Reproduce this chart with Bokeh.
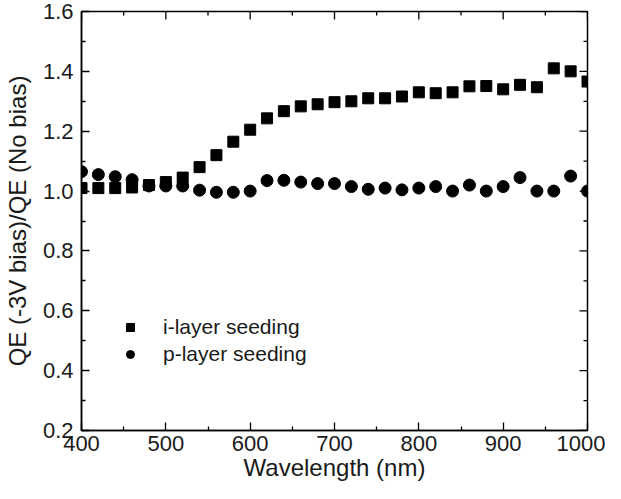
import math
from bokeh.plotting import figure
from bokeh.models import (Range1d, FixedTicker, NumeralTickFormatter, Legend, LegendItem)
from bokeh.embed import file_html
from bokeh.resources import INLINE

# ---- data ----
wavelength = [400, 420, 440, 460, 480, 500, 520, 540, 560, 580, 600, 620, 640, 660, 680,
              700, 720, 740, 760, 780, 800, 820, 840, 860, 880, 900, 920, 940, 960, 980, 1000]
i_layer = [1.01, 1.01, 1.01, 1.012, 1.02, 1.03, 1.045, 1.08, 1.12, 1.165, 1.205, 1.243,
           1.267, 1.283, 1.29, 1.297, 1.30, 1.31, 1.31, 1.316, 1.33, 1.327, 1.33, 1.35,
           1.351, 1.34, 1.355, 1.347, 1.41, 1.40, 1.366]
p_layer = [1.065, 1.055, 1.048, 1.038, 1.017, 1.017, 1.017, 1.003, 0.996, 0.996, 1.0, 1.035,
           1.036, 1.03, 1.025, 1.025, 1.015, 1.006, 1.01, 1.004, 1.01, 1.015, 1.0, 1.02,
           1.0, 1.015, 1.045, 1.0, 1.0, 1.05, 1.0]
series_labels = ["i-layer seeding", "p-layer seeding"]
x_ticks = [400, 500, 600, 700, 800, 900, 1000]
x_minor = [450, 550, 650, 750, 850, 950]
y_ticks = [0.2, 0.4, 0.6, 0.8, 1.0, 1.2, 1.4, 1.6]
y_minor = [0.3, 0.5, 0.7, 0.9, 1.1, 1.3, 1.5]
x_min, x_max = 400, 1000
y_min, y_max = 0.2, 1.6
x_title = "Wavelength (nm)"
y_title = "QE (-3V bias)/QE (No bias)"

FONT = "Liberation Sans"
TXT = "#1a1a1a"
MAJ, MIN = 8, 4

p = figure(width=605, height=483, output_backend="svg", toolbar_location=None,
           x_range=Range1d(x_min, x_max), y_range=Range1d(y_min, y_max),
           min_border_left=75, min_border_right=18, min_border_top=11, min_border_bottom=40)
p.xgrid.visible = False
p.ygrid.visible = False
p.outline_line_color = "black"
p.outline_line_width = 1.5
p.background_fill_color = "white"
p.border_fill_color = "white"

for ax, tk, mn in ((p.xaxis[0], x_ticks, x_minor), (p.yaxis[0], y_ticks, y_minor)):
    ax.ticker = FixedTicker(ticks=tk, minor_ticks=mn)
    ax.axis_line_color = "black"
    ax.axis_line_width = 1.5
    ax.major_tick_in = MAJ
    ax.major_tick_out = 0
    ax.minor_tick_in = MIN
    ax.minor_tick_out = 0
    ax.major_tick_line_width = 1.3
    ax.minor_tick_line_width = 1.3
    ax.major_tick_line_color = "black"
    ax.minor_tick_line_color = "black"
    ax.major_label_text_font = FONT
    ax.major_label_text_font_size = "22px"
    ax.major_label_text_color = TXT
    ax.axis_label_text_font = FONT
    ax.axis_label_text_font_size = "24px"
    ax.axis_label_text_font_style = "normal"
    ax.axis_label_text_color = TXT

p.xaxis.formatter = NumeralTickFormatter(format="0")
p.yaxis.formatter = NumeralTickFormatter(format="0.0")
p.xaxis.axis_label = x_title
p.yaxis.axis_label = y_title
p.xaxis.major_label_standoff = 5
p.xaxis.axis_label_standoff = 0
p.yaxis.major_label_standoff = 8
p.yaxis.axis_label_standoff = 9

# mirrored inward ticks on the top and right edges (clipped to the frame)
tick_kw = dict(marker="dash", line_color="black", line_width=1.3, fill_alpha=0)
p.scatter(x_ticks, [y_max] * len(x_ticks), angle=math.pi / 2, size=2 * MAJ, **tick_kw)
p.scatter(x_minor, [y_max] * len(x_minor), angle=math.pi / 2, size=2 * MIN, **tick_kw)
p.scatter([x_max] * len(y_ticks), y_ticks, size=2 * MAJ, **tick_kw)
p.scatter([x_max] * len(y_minor), y_minor, size=2 * MIN, **tick_kw)

r_i = p.scatter(wavelength, i_layer, marker="square", size=11, color="black")
r_p = p.scatter(wavelength, p_layer, marker="circle", size=12, color="black")

legend = Legend(items=[LegendItem(label=series_labels[0], renderers=[r_i]),
                       LegendItem(label=series_labels[1], renderers=[r_p])],
                location=(39, 64), orientation="vertical",
                background_fill_alpha=0, border_line_alpha=0,
                padding=0, margin=0, spacing=3,
                glyph_width=20, glyph_height=24, label_height=24,
                label_standoff=23,
                label_text_font=FONT, label_text_font_size="21px",
                label_text_color=TXT)
p.add_layout(legend, "center")

open("out.html", "w").write(file_html(p, INLINE))
